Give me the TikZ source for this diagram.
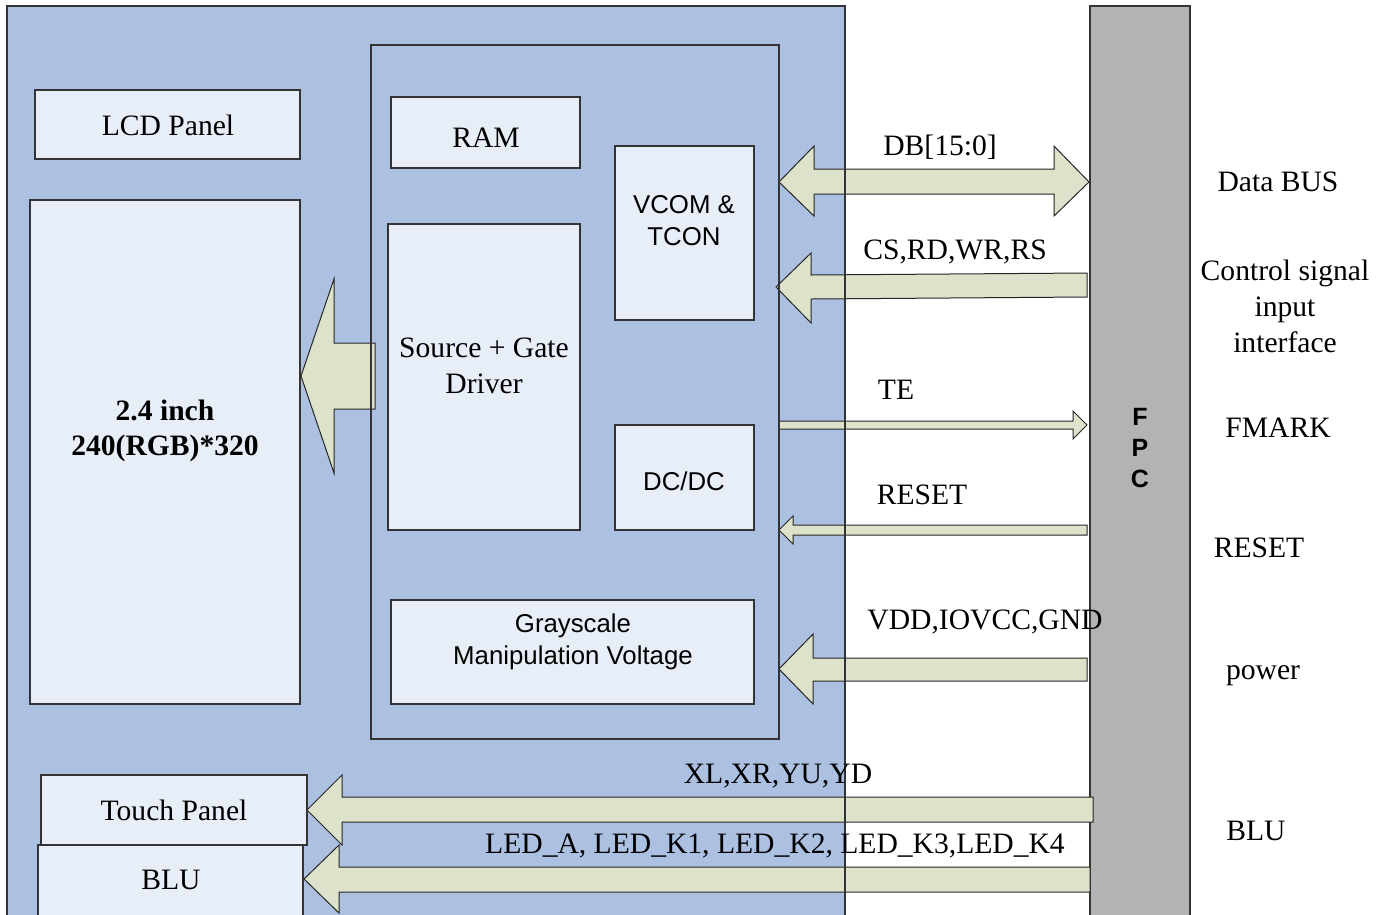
\documentclass[tikz,border=0pt]{standalone}
\usepackage{fontspec}
\setmainfont{Liberation Serif}
\setsansfont{Liberation Sans}
\definecolor{bluebg}{HTML}{ACC1E2}
\definecolor{boxfill}{HTML}{E8EEF8}
\definecolor{arrfill}{HTML}{DDE2CB}
\definecolor{fpcgray}{HTML}{B3B3B3}
\definecolor{edge}{HTML}{333333}
\begin{document}
\begin{tikzpicture}[x=1pt,y=-1pt,
  box/.style={draw=edge, line width=1.1pt, fill=boxfill, inner sep=0pt},
  outline/.style={draw=edge, line width=1.1pt},
  arr/.style={draw=black!85, line width=1pt, fill=arrfill, line join=miter},
  txt/.style={inner sep=0pt, align=center, font=\fontsize{29.6}{36}\selectfont},
  stxt/.style={inner sep=0pt, align=center, font=\sffamily\fontsize{25.8}{32}\selectfont},
  btxt/.style={inner sep=0pt, align=center, font=\bfseries\fontsize{29.6}{35}\selectfont},
  ftxt/.style={inner sep=0pt, font=\sffamily\bfseries\fontsize{25}{30}\selectfont}
]
\useasboundingbox (0,0) rectangle (1389,914);
\clip (0,0) rectangle (1389,914);
\fill[white] (0,0) rectangle (1389,914);
% blue module background
\fill[bluebg] (7,6) rectangle (845,930);
% FPC
\node[draw=edge, line width=1.1pt, fill=fpcgray, minimum width=100pt, minimum height=924pt, inner sep=0pt] (fpc) at (1140,468) {};
% block arrows
\draw[arr] (375,343) -- (334,343) -- (334,279) -- (301,376) -- (334,473) -- (334,409) -- (375,409) -- cycle;
\draw[arr] (779,182) -- (814,146) -- (814,169) -- (1054,169) -- (1054,146) -- (1089,182) -- (1054,216) -- (1054,194) -- (814,194) -- (814,216) -- cycle;
\draw[arr] (776,287) -- (811,253) -- (811,275) -- (1087,273) -- (1087,297) -- (811,299) -- (811,323) -- cycle;
\draw[arr] (779,421) -- (1073,421) -- (1073,411) -- (1087,425) -- (1073,439) -- (1073,429) -- (779,429) -- cycle;
\draw[arr] (779,530) -- (793,516) -- (793,525) -- (1087,525) -- (1087,535) -- (793,535) -- (793,544) -- cycle;
\draw[arr] (779,669) -- (813,634) -- (813,658) -- (1087,658) -- (1087,681) -- (813,681) -- (813,704) -- cycle;
\draw[arr] (307,810) -- (342,775) -- (342,797) -- (1093,797) -- (1093,822) -- (342,822) -- (342,845) -- cycle;
\draw[arr] (304,879) -- (339,845) -- (339,867) -- (1090,867) -- (1090,892) -- (339,892) -- (339,913) -- cycle;
% outlines
\draw[outline] (7,930) -- (7,6) -- (845,6) -- (845,930);
\node[outline, minimum width=408pt, minimum height=694pt, inner sep=0pt] (chip) at (575,392) {};
% boxes
\node[box, minimum width=265pt, minimum height=69pt] (lcd) at (167.5,124.5) {};
\node[box, minimum width=270pt, minimum height=504pt] (glass) at (165,452) {};
\node[box, minimum width=189pt, minimum height=71pt] (ram) at (485.5,132.5) {};
\node[box, minimum width=139pt, minimum height=174pt] (vcom) at (684.5,233) {};
\node[box, minimum width=192pt, minimum height=306pt] (drv) at (484,377) {};
\node[box, minimum width=139pt, minimum height=105pt] (dcdc) at (684.5,477.5) {};
\node[box, minimum width=363pt, minimum height=104pt] (gray) at (572.5,652) {};
\node[box, minimum width=266pt, minimum height=70pt] (touch) at (174,810) {};
\node[box, minimum width=265pt, minimum height=90pt] (blu) at (170.5,890) {};
% box texts
\node[txt] (tlcd) at (168,125) {LCD Panel};
\node[btxt] (tglass) at (165,431) {2.4 inch\\240(RGB)*320};
\node[txt] (tram) at (486,138) {RAM};
\node[stxt] (tvcom) at (684,221) {VCOM \&\\TCON};
\node[txt] (tdrv) at (484,366) {Source + Gate\\Driver};
\node[stxt] (tdcdc) at (684,481) {DC/DC};
\node[stxt] (tgray) at (573,642) {Grayscale\\Manipulation Voltage};
\node[txt] (ttouch) at (174,810) {Touch Panel};
\node[txt] (tblu) at (171,880) {BLU};
% FPC letters
\node[ftxt] (f1) at (1140,417) {F};
\node[ftxt] (f2) at (1140,448) {P};
\node[ftxt] (f3) at (1140,479) {C};
% signal labels
\node[txt] (ldb) at (940,147) {DB[15:0]};
\node[txt] (lcs) at (955,252) {CS,RD,WR,RS};
\node[txt] (lte) at (896,390) {TE};
\node[txt] (lrst) at (922,495) {RESET};
\node[txt] (lvdd) at (985,622) {VDD,IOVCC,GND};
\node[txt] (lxl) at (778,776) {XL,XR,YU,YD};
\node[txt] (lled) at (775,846) {LED\_A, LED\_K1, LED\_K2, LED\_K3,LED\_K4};
% right side labels
\node[txt] (rdb) at (1278,182) {Data BUS};
\node[txt] (rcs) at (1285,306) {Control signal\\input\\interface};
\node[txt] (rfm) at (1278,428) {FMARK};
\node[txt] (rrst) at (1259,548) {RESET};
\node[txt] (rpow) at (1263,676) {power};
\node[txt] (rblu) at (1256,831) {BLU};
\end{tikzpicture}
\end{document}
